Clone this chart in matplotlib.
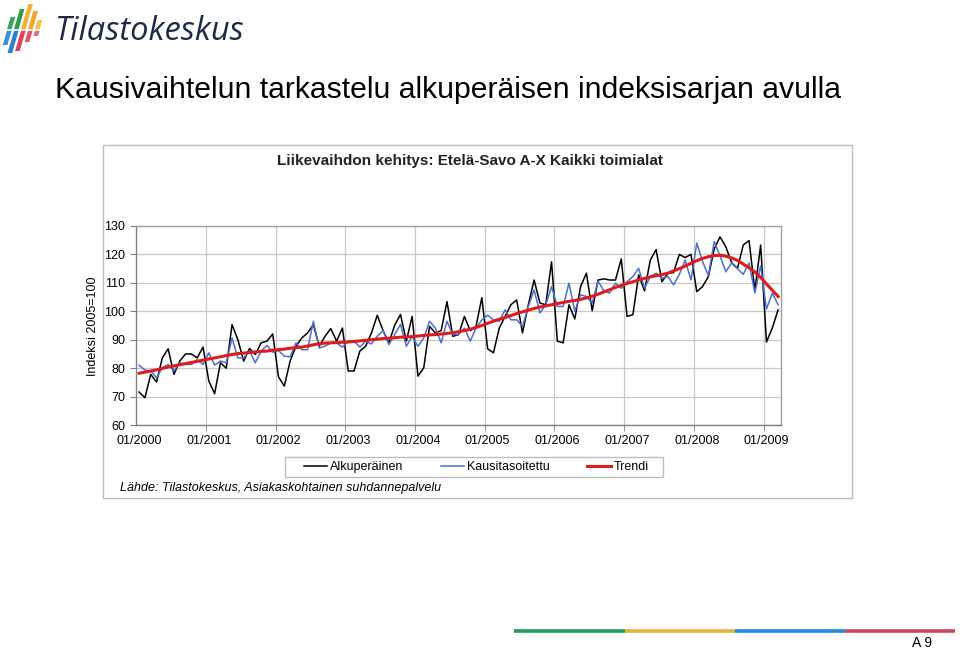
import matplotlib
matplotlib.use("Agg")
import matplotlib.pyplot as plt
from matplotlib.patches import Rectangle, Polygon
import numpy as np

plt.rcParams["font.family"] = ["Liberation Sans", "DejaVu Sans"]

W, H = 960, 650

# monthly index values 01/2000 .. 03/2009
alkuperainen = [
    71.6, 69.6, 77.8, 75.1, 83.6, 86.8, 77.8, 82.5, 85.0, 85.0, 83.6, 87.4,
    75.5, 71.0, 81.9, 80.0, 95.3, 90.0, 82.5, 86.9, 84.8, 88.9, 89.5, 92.0,
    76.9, 73.7, 82.5, 87.7, 90.6, 92.4, 95.3, 87.7, 91.2, 93.9, 89.5, 94.1,
    79.0, 79.0, 86.0, 87.7, 92.4, 98.6, 93.2, 88.9, 95.1, 98.9, 89.5, 98.2,
    77.2, 80.1, 94.7, 92.4, 93.2, 103.4, 91.2, 91.8, 98.2, 93.2, 94.7, 104.8,
    86.8, 85.4, 94.1, 98.2, 102.3, 104.0, 92.4, 102.3, 111.0, 102.9, 102.3, 117.4,
    89.5, 88.9, 102.3, 97.3, 108.7, 113.4, 100.2, 111.0, 111.4, 111.0, 111.0, 118.4,
    98.2, 98.8, 112.8, 107.2, 118.0, 121.7, 110.4, 113.3, 113.6, 120.0, 118.9, 120.0,
    106.9, 108.7, 112.2, 121.9, 126.2, 122.7, 117.1, 115.1, 123.3, 124.9, 107.3, 123.3,
    89.2, 94.1, 100.5,
]
kausitasoitettu = [
    81.0, 79.3, 79.0, 76.6, 80.1, 81.3, 79.0, 81.9, 81.3, 81.3, 83.0, 81.3,
    85.4, 81.1, 82.5, 81.9, 90.6, 83.6, 83.6, 86.0, 81.9, 86.0, 88.0, 85.6,
    86.2, 84.2, 84.0, 88.9, 86.5, 86.5, 96.5, 87.1, 87.7, 88.9, 88.9, 87.4,
    89.5, 89.5, 87.4, 89.5, 88.5, 91.2, 93.2, 88.3, 91.8, 95.4, 87.7, 91.2,
    87.7, 90.6, 96.5, 94.1, 88.9, 96.5, 91.8, 91.8, 94.1, 89.5, 94.1, 97.0,
    98.6, 97.0, 96.5, 100.5, 97.0, 97.0, 94.7, 101.7, 107.5, 99.4, 102.3, 108.7,
    101.7, 101.7, 109.9, 100.0, 105.8, 105.2, 102.9, 110.6, 107.2, 106.4, 109.9, 108.1,
    110.4, 112.2, 115.1, 108.1, 112.2, 113.4, 111.6, 112.3, 109.3, 113.0, 118.0, 111.0,
    124.0, 117.5, 112.5, 124.5, 119.5, 113.9, 117.0, 115.0, 113.0, 117.0, 106.4, 116.0,
    100.8, 106.4, 102.3,
]
trendi = [
    78.2, 78.6, 79.0, 79.4, 79.9, 80.4, 80.8, 81.2, 81.6, 82.0, 82.4, 82.8,
    83.2, 83.6, 84.0, 84.4, 84.8, 85.1, 85.3, 85.5, 85.7, 85.9, 86.0, 86.3,
    86.5, 86.7, 87.0, 87.2, 87.4, 87.8, 88.2, 88.6, 88.8, 88.9, 89.0, 89.1,
    89.2, 89.4, 89.6, 89.8, 90.0, 90.2, 90.4, 90.5, 90.7, 90.9, 91.0, 91.1,
    91.3, 91.5, 91.7, 91.8, 92.0, 92.2, 92.5, 92.8, 93.2, 93.7, 94.3, 95.0,
    95.8, 96.5, 97.2, 97.8, 98.5, 99.2, 99.8, 100.4, 101.0, 101.5, 101.9, 102.3,
    102.7, 103.1, 103.5, 103.8, 104.2, 104.7, 105.3, 106.0, 106.8, 107.6, 108.4, 109.1,
    109.8, 110.4, 111.0, 111.6, 112.1, 112.5, 112.9, 113.4, 114.2, 115.0, 115.9, 116.9,
    117.8, 118.6, 119.2, 119.6, 119.7, 119.4, 118.8, 117.9, 116.6, 115.3, 113.8, 111.9,
    109.6, 107.4, 105.2,
]
years = list(range(2000, 2010))
year_labels = [f"01/{y}" for y in years]
y_ticks = [60, 70, 80, 90, 100, 110, 120, 130]


def px_rect(x0, y0, x1, y1):
    return [x0 / W, 1 - y1 / H, (x1 - x0) / W, (y1 - y0) / H]


fig = plt.figure(figsize=(W / 100, H / 100), dpi=100)
fig.patch.set_facecolor("white")

# background layer in pixel coordinates
bg = fig.add_axes([0, 0, 1, 1])
bg.set_xlim(0, W)
bg.set_ylim(H, 0)
bg.axis("off")

# logo bars
logo_cols = [
    (7, 17, 45, "#3aa655", "#3b8fd9"),
    (14, 9, 53, "#2e9e4e", "#2f7fd0"),
    (21, 4, 51, "#f2b134", "#d94357"),
    (28, 11, 42, "#f5a623", "#e05666"),
    (35, 20, 36, "#f2c14e", "#e46a78"),
]
mid = 30
for x, top, bot, ctop, cbot in logo_cols:
    s = 0.28
    bw = 4.6
    bg.add_patch(Polygon([(x + (mid - top) * s, top), (x + bw + (mid - top) * s, top),
                          (x + bw, mid - 0.8), (x, mid - 0.8)], closed=True,
                         facecolor=ctop, edgecolor="none"))
    bg.add_patch(Polygon([(x, mid + 0.8), (x + bw, mid + 0.8),
                          (x + bw - (bot - mid) * s, bot), (x - (bot - mid) * s, bot)],
                         closed=True, facecolor=cbot, edgecolor="none"))
bg.text(54, 31, "Tilastokeskus", fontsize=23.5, color="#1c2b45", style="italic",
        family=["Open Sans", "DejaVu Sans"], ha="left", va="center")

bg.text(55, 90, "Kausivaihtelun tarkastelu alkuperäisen indeksisarjan avulla",
        fontsize=21.7, color="black", ha="left", va="center")

# chart frame
bg.add_patch(Rectangle((103, 145), 749, 353, facecolor="white",
                       edgecolor="#bdbdbd", lw=1.0))
bg.text(470, 161, "Liikevaihdon kehitys: Etelä-Savo A-X Kaikki toimialat",
        fontsize=11, fontweight="bold", color="#222222", ha="center", va="center")
bg.text(120, 488, "Lähde: Tilastokeskus, Asiakaskohtainen suhdannepalvelu",
        fontsize=9, style="italic", color="black", ha="left", va="center")
bg.text(93, 326, "Indeksi 2005=100", fontsize=9, rotation=90,
        ha="center", va="center")

# legend frame
bg.add_patch(Rectangle((285, 457), 378, 20, facecolor="white",
                       edgecolor="#bdbdbd", lw=1.0))

# bottom colour stripe and page number
for x0, x1, c in [(514, 625, "#1f9d5b"), (625, 735, "#e8b43c"),
                  (735, 845, "#1e88e5"), (845, 955, "#cf4660")]:
    bg.plot([x0, x1], [631, 631], color=c, lw=2.6, solid_capstyle="butt")
bg.text(922, 643, "A 9", fontsize=10, ha="center", va="center")

# plot area
ax = fig.add_axes(px_rect(136.2, 226, 781, 425))
x = np.arange(len(alkuperainen))
l1, = ax.plot(x, alkuperainen, color="black", lw=1.1, label="Alkuperäinen")
l2, = ax.plot(x, kausitasoitettu, color="#4a6fd0", lw=1.1, label="Kausitasoitettu")
l3, = ax.plot(x, trendi, color="#e01b1b", lw=2.2, label="Trendi")

ax.set_xlim(-0.5, 110.5)
ax.set_ylim(60, 130)
ax.set_yticks(y_ticks)
ax.set_yticklabels([str(v) for v in y_ticks], fontsize=9)
ax.set_xticks([12 * k for k in range(len(years))])
ax.set_xticklabels(year_labels, fontsize=9)
ax.set_xticks([12 * k - 0.5 for k in range(1, len(years))], minor=True)
ax.tick_params(axis="x", which="major", length=0, pad=7)
ax.tick_params(axis="x", which="minor", length=4, color="#808080")
ax.tick_params(axis="y", length=4, color="#808080", pad=4)
ax.grid(axis="y", color="#c8c8c8", lw=0.9)
ax.grid(axis="x", which="minor", color="#c8c8c8", lw=0.9)
ax.set_axisbelow(True)
for sp in ax.spines.values():
    sp.set_edgecolor("#a0a0a0")
    sp.set_linewidth(1.0)
ax.spines["left"].set_edgecolor("#808080")
ax.spines["bottom"].set_edgecolor("#808080")

leg = fig.legend(handles=[l1, l2, l3], loc="center", ncol=3,
                 bbox_to_anchor=(476 / W, 1 - 467 / H), fontsize=9,
                 frameon=False, handlelength=1.9,
                 handletextpad=0.2, columnspacing=3.0, borderpad=0.2)

fig.savefig("out.png", dpi=100, facecolor="white")
